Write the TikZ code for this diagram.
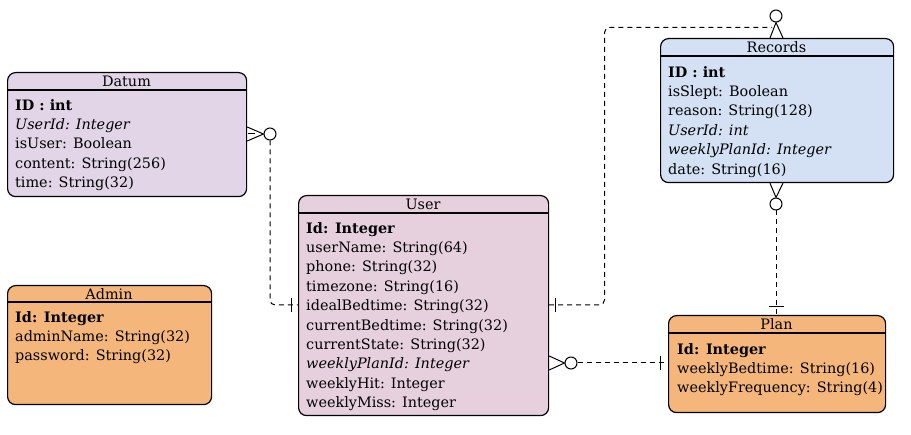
\documentclass[tikz,border=0pt]{standalone}
\usepackage{fontspec}
\setmainfont{DejaVu Serif}
\usetikzlibrary{positioning}

\definecolor{datumfill}{HTML}{E1D5E7}
\definecolor{userfill}{HTML}{E6D0DE}
\definecolor{recordsfill}{HTML}{D4E1F5}
\definecolor{planfill}{HTML}{F4B67B}

\tikzset{
  entity/.style={draw, line width=1.2pt, rounded corners=8pt, anchor=north west, inner sep=0pt},
  title/.style={inner sep=0pt, font=\fontsize{14.4}{17}\selectfont},
  rows/.style={anchor=north west, inner sep=0pt, align=left, font=\fontsize{14.4}{19.4}\selectfont},
  rel/.style={line width=1pt, dash pattern=on 5pt off 4pt, rounded corners=5pt},
  foot/.style={line width=1pt},
  zero/.style={draw, line width=1pt, circle, fill=white, minimum size=12pt, inner sep=0pt}
}

\begin{document}
\begin{tikzpicture}[x=1pt,y=-1pt]
    \useasboundingbox (0,0) rectangle (911,435);

    % Datum
    \node[entity, fill=datumfill, minimum width=239pt, minimum height=124pt] (datum) at (7,72) {};
    \draw[line width=1.3pt] (7,90) -- (246,90);
    \node[title] (datumtitle) at (126.5,81) {Datum};
    \node[rows] (datumrows) at (15,99) {\textbf{ID : int}\\ \textit{UserId: Integer}\\ isUser: Boolean\\ content: String(256)\\ time: String(32)};

    % Admin
    \node[entity, fill=planfill, minimum width=204pt, minimum height=119pt] (admin) at (7,285) {};
    \draw[line width=1.3pt] (7,302) -- (211,302);
    \node[title] (admintitle) at (109,294) {Admin};
    \node[rows] (adminrows) at (15,311) {\textbf{Id: Integer}\\ adminName: String(32)\\ password: String(32)};

    % User
    \node[entity, fill=userfill, minimum width=250pt, minimum height=220pt] (user) at (298,195) {};
    \draw[line width=1.3pt] (298,213) -- (548,213);
    \node[title] (usertitle) at (423,204) {User};
    \node[rows] (userrows) at (306,222) {\textbf{Id: Integer}\\ userName: String(64)\\ phone: String(32)\\ timezone: String(16)\\ idealBedtime: String(32)\\ currentBedtime: String(32)\\ currentState: String(32)\\ \textit{weeklyPlanId: Integer}\\ weeklyHit: Integer\\ weeklyMiss: Integer};

    % Records
    \node[entity, fill=recordsfill, minimum width=233pt, minimum height=144pt] (records) at (660,38) {};
    \draw[line width=1.3pt] (660,56) -- (893,56);
    \node[title] (recordstitle) at (776.5,47) {Records};
    \node[rows] (recordsrows) at (668,66) {\textbf{ID : int}\\ isSlept: Boolean\\ reason: String(128)\\ \textit{UserId: int}\\ \textit{weeklyPlanId: Integer}\\ date: String(16)};

    % Plan
    \node[entity, fill=planfill, minimum width=217pt, minimum height=97pt] (plan) at (668,315) {};
    \draw[line width=1.3pt] (668,333) -- (885,333);
    \node[title] (plantitle) at (776.5,324) {Plan};
    \node[rows] (planrows) at (677,343) {\textbf{Id: Integer}\\ weeklyBedtime: String(16)\\ weeklyFrequency: String(4)};

    % Datum -- User
    \node[zero] (datumzero) at (270,134) {};
    \draw[foot] (datum.east |- 0,127) -- (datumzero.west) -- (datum.east |- 0,141);
    \draw[foot] (248,134) -- (255,134);
    \draw[rel] (datumzero.south) |- (user.west |- 0,305);
    \draw[foot] (291,298) -- (291,312);

    % User -- Records
    \node[zero] (recordstopzero) at (776,16) {};
    \coordinate (recordstopend) at (772,27.5);
    \draw[foot] (records.north -| 770,0) -- (recordstopzero.south) -- (records.north -| 783,0);
    \draw[rel] (user.east |- 0,305) -| (604.5,150) |- (recordstopend);
    \draw[foot] (555,298) -- (555,312);

    % Records -- Plan
    \node[zero] (recordsbotzero) at (776,204) {};
    \draw[foot] (records.south -| 770,0) -- (recordsbotzero.north) -- (records.south -| 783,0);
    \draw[rel] (recordsbotzero.south) -- (plan.north -| recordsbotzero);
    \draw[foot] (769,307) -- (784,307);

    % User -- Plan
    \node[zero] (userzero) at (571,363) {};
    \draw[foot] (user.east |- 0,356) -- (userzero.west) -- (user.east |- 0,370);
    \draw[rel] (userzero.east) -- (plan.west |- userzero);
    \draw[foot] (660,356) -- (660,370);
\end{tikzpicture}
\end{document}
